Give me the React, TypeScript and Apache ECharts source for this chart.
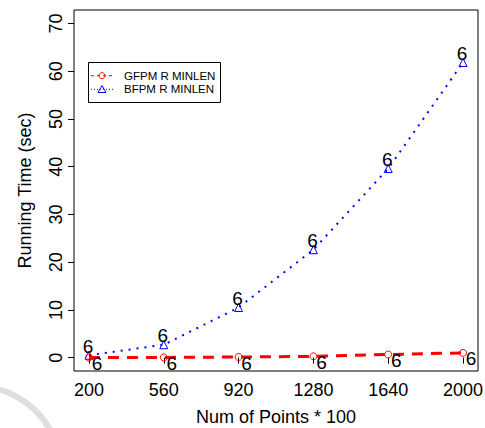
import React, { useEffect, useRef } from "react";
import * as echarts from "echarts";

// Data: running time (sec) vs number of points (x100)
const xValues = [200, 560, 920, 1280, 1640, 2000];
const gfpmTimes = [0.02, 0.05, 0.13, 0.27, 0.65, 1.0];
const bfpmTimes = [0.5, 2.7, 10.5, 22.6, 39.6, 61.8];
const seriesNames = ["GFPM R MINLEN", "BFPM R MINLEN"];
const pointLabel = "6";
const xTicks = [200, 560, 920, 1280, 1640, 2000];
const yTicks = [0, 10, 20, 30, 40, 50, 60, 70];

const FONT = "'Liberation Sans', Arial, Helvetica, sans-serif";
const RED = "#ff0000";
const BLUE = "#0000ff";

const App: React.FC = () => {
  const ref = useRef<HTMLDivElement>(null);

  useEffect(() => {
    if (!ref.current) return;
    const chart = echarts.init(ref.current, null, { renderer: "svg" });

    const option: any = {
      animation: false,
      backgroundColor: "#ffffff",
      textStyle: { fontFamily: FONT },
      grid: {
        left: 74,
        top: 10,
        width: 404,
        height: 361,
        outerBoundsMode: "none",
        containLabel: false,
        show: true,
        borderColor: "#000",
        borderWidth: 1,
        backgroundColor: "transparent",
      },
      xAxis: {
        type: "value",
        min: 128,
        max: 2072,
        name: "Num of Points * 100",
        nameLocation: "middle",
        nameGap: 37,
        nameTextStyle: { fontSize: 18, color: "#000", fontFamily: FONT },
        axisLine: { show: false },
        splitLine: { show: false },
        axisTick: {
          show: true,
          length: 6,
          customValues: xTicks,
          lineStyle: { color: "#000", width: 1 },
        },
        axisLabel: {
          show: true,
          customValues: xTicks,
          formatter: (v: number) => String(v),
          margin: 10,
          fontSize: 18,
          color: "#000",
          fontFamily: FONT,
        },
      },
      yAxis: {
        type: "value",
        min: -2.8,
        max: 72.8,
        name: "Running Time (sec)",
        nameLocation: "middle",
        nameGap: 40,
        nameRotate: 90,
        nameTextStyle: { fontSize: 18, color: "#000", fontFamily: FONT },
        axisLine: { show: false },
        splitLine: { show: false },
        axisTick: {
          show: true,
          length: 6,
          customValues: yTicks,
          lineStyle: { color: "#000", width: 1 },
        },
        axisLabel: {
          show: true,
          customValues: yTicks,
          formatter: (v: number) => String(v),
          rotate: 90,
          margin: 9,
          fontSize: 18,
          color: "#000",
          fontFamily: FONT,
        },
      },
      series: [
        {
          name: seriesNames[0],
          type: "line",
          data: xValues.map((x, i) => [x, gfpmTimes[i]]),
          symbol: "circle",
          symbolSize: 7,
          showAllSymbol: true,
          lineStyle: { color: RED, width: 3, type: [11, 8] },
          itemStyle: { color: "transparent", borderColor: RED, borderWidth: 1 },
          label: {
            show: true,
            formatter: pointLabel,
            position: "inside",
            offset: [8, 6],
            fontSize: 19,
            color: "#000",
            fontFamily: FONT,
          },
          z: 3,
        },
        {
          name: seriesNames[1],
          type: "line",
          data: xValues.map((x, i) => [x, bfpmTimes[i]]),
          symbol: "triangle",
          symbolSize: 8,
          showAllSymbol: true,
          lineStyle: { color: BLUE, width: 2, type: [2, 6] },
          itemStyle: { color: "transparent", borderColor: BLUE, borderWidth: 1 },
          label: {
            show: true,
            formatter: pointLabel,
            position: "inside",
            offset: [-1, -9],
            fontSize: 19,
            color: "#000",
            fontFamily: FONT,
          },
          z: 2,
        },
      ],
      graphic: [
        // faint arc in the lower-left corner
        {
          type: "arc",
          shape: { cx: -25, cy: 472, r: 86, startAngle: -1.6, endAngle: -0.3 },
          style: { stroke: "#dedede", lineWidth: 6, fill: "none" },
          silent: true,
          z: 0,
        },
        // legend box
        {
          type: "group",
          z: 10,
          children: [
            {
              type: "rect",
              shape: { x: 88.5, y: 62.5, width: 132, height: 40 },
              style: { fill: "#fff", stroke: "#000", lineWidth: 1 },
            },
            {
              type: "line",
              shape: { x1: 91, y1: 75.7, x2: 113, y2: 75.7 },
              style: { stroke: RED, lineWidth: 1, lineDash: [3, 3] },
            },
            {
              type: "circle",
              shape: { cx: 102, cy: 75.7, r: 3 },
              style: { fill: "none", stroke: RED, lineWidth: 1 },
            },
            {
              type: "text",
              x: 124,
              y: 75.7,
              style: {
                text: seriesNames[0],
                fontSize: 11.5,
                fontFamily: FONT,
                fill: "#000",
                verticalAlign: "middle",
                align: "left",
              },
            },
            {
              type: "line",
              shape: { x1: 91, y1: 89.3, x2: 113, y2: 89.3 },
              style: { stroke: BLUE, lineWidth: 1, lineDash: [1, 2] },
            },
            {
              type: "polygon",
              shape: { points: [[98, 92.5], [106, 92.5], [102, 85.5]] },
              style: { fill: "none", stroke: BLUE, lineWidth: 1 },
            },
            {
              type: "text",
              x: 124,
              y: 89.3,
              style: {
                text: seriesNames[1],
                fontSize: 11.5,
                fontFamily: FONT,
                fill: "#000",
                verticalAlign: "middle",
                align: "left",
              },
            },
          ],
        },
      ],
    };

    chart.setOption(option);
    return () => chart.dispose();
  }, []);

  return (
    <div
      ref={ref}
      style={{ position: "fixed", left: 0, top: 0, width: 485, height: 428 }}
    />
  );
};

export default App;
